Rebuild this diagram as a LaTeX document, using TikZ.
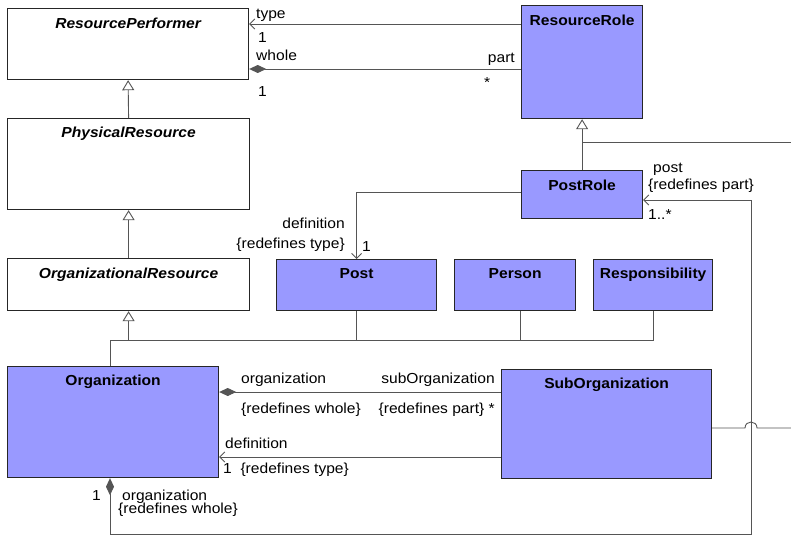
\documentclass[tikz,border=0pt]{standalone}
\usepackage{fontspec}
\setmainfont{Liberation Sans}[FakeStretch=1.075]
\usetikzlibrary{arrows.meta}
\definecolor{umlblue}{HTML}{9999FF}
\definecolor{edgecol}{HTML}{555555}
\definecolor{bordercol}{HTML}{262626}
\begin{document}
\begin{tikzpicture}[x=1pt,y=-1pt,
  cls/.style={draw=bordercol, line width=1.2pt, anchor=north west, inner sep=0pt},
  wcls/.style={cls, fill=white},
  bcls/.style={cls, fill=umlblue},
  ttl/.style={font=\fontsize{14.5}{16}\selectfont\bfseries, inner sep=0pt, text height=10.5pt, text depth=0pt},
  ittl/.style={font=\fontsize{14.5}{16}\selectfont\bfseries\itshape, inner sep=0pt, text height=10.5pt, text depth=0pt},
  lbl/.style={font=\fontsize{14.5}{16}\selectfont, inner sep=0pt, text height=10.5pt, text depth=0pt},
  link/.style={draw=edgecol, line width=0.9pt},
  navi/.style={link, -{Straight Barb[length=5pt,width=10pt]}},
  comp/.style={link, {Diamond[length=17pt,width=8pt,fill=edgecol]}-},
  gen/.style={link, -{Triangle[open,length=10pt,width=12pt,fill=white]}},
  compnavi/.style={link, {Diamond[length=17pt,width=8pt,fill=edgecol]}-{Straight Barb[length=5pt,width=10pt]}},
]
\fill[white] (0,0) rectangle (791,536);
\path[use as bounding box] (0,0) rectangle (791,536);

% classes
\node[wcls, minimum width=241pt, minimum height=71pt] (rp) at (7,8) {};
\node[wcls, minimum width=242pt, minimum height=91pt] (pr) at (7,118) {};
\node[wcls, minimum width=242pt, minimum height=52pt] (ores) at (7,258) {};
\node[bcls, minimum width=121pt, minimum height=113pt] (rr) at (521,5) {};
\node[bcls, minimum width=121pt, minimum height=48pt] (prole) at (521,170) {};
\node[bcls, minimum width=160pt, minimum height=51pt] (post) at (276,259) {};
\node[bcls, minimum width=121pt, minimum height=51pt] (person) at (454,259) {};
\node[bcls, minimum width=119pt, minimum height=51pt] (resp) at (593,259) {};
\node[bcls, minimum width=211pt, minimum height=111pt] (org) at (7,366) {};
\node[bcls, minimum width=210pt, minimum height=109pt] (sub) at (501,369) {};

% titles
\node[ittl] (trp) at ([yshift=-15pt]rp.north) {ResourcePerformer};
\node[ittl] (tpr) at ([yshift=-14pt]pr.north) {PhysicalResource};
\node[ittl] (tor) at ([yshift=-15pt]ores.north) {OrganizationalResource};
\node[ttl] (trr) at ([yshift=-15pt]rr.north) {ResourceRole};
\node[ttl] (tpro) at ([yshift=-15pt]prole.north) {PostRole};
\node[ttl] (tpost) at ([yshift=-14pt]post.north) {Post};
\node[ttl] (tpers) at ([yshift=-14pt]person.north) {Person};
\node[ttl] (tresp) at ([yshift=-14pt]resp.north) {Responsibility};
\node[ttl] (torg) at ([yshift=-14.5pt]org.north) {Organization};
\node[ttl] (tsub) at ([yshift=-14pt]sub.north) {SubOrganization};

% helper coordinates
\coordinate (edgeA) at (791,142);
\coordinate (edgeB) at (791,428);
\coordinate (corner) at (751,534);
\coordinate (orgtop) at ([xshift=103pt]org.north west);
\coordinate (orgbot) at ([xshift=103pt]org.south west);
\coordinate (perstop) at ([xshift=66pt]person.south west);
\coordinate (hopL) at (745,428);
\coordinate (hopR) at (757,428);

% associations to ResourcePerformer
\draw[navi] (rr.west |- 0,24) -- (rp.east |- 0,24);
\draw[comp] (rp.east |- 0,69) -- (rr.west |- 0,69);

% generalizations
\draw[gen] (pr.north) -- (rp.south);
\draw[gen] (ores.north) -- (pr.south);
\draw[gen] (prole.north) -- (rr.south);
\draw[link] (prole.north |- 0,142) -- (edgeA);
\draw[gen] (ores.south |- 0,340) -- (ores.south);
\draw[link] (orgtop) |- (resp.south |- 0,340) -- (resp.south);
\draw[link] (post.south) -- (post.south |- 0,340);
\draw[link] (perstop) -- (perstop |- 0,340);

% PostRole -> Post
\draw[navi] (prole.west |- 0,192) -| (post.north);

% Organization -> PostRole (post)
\draw[compnavi] (orgbot) |- (corner) |- (prole.east |- 0,200);

% SubOrganization right edge with hop
\draw[link] (sub.east |- 0,428) -- (hopL) .. controls (745,420) and (757,420) .. (hopR) -- (edgeB);

% Organization <-> SubOrganization
\draw[comp] (org.east |- 0,392) -- (sub.west |- 0,392);
\draw[navi] (sub.west |- 0,457) -- (org.east |- 0,457);

% labels
\node[lbl, anchor=west] (l1) at (256,13) {type};
\node[lbl, anchor=west] (l2) at (258,37) {1};
\node[lbl, anchor=west] (l3) at (256,55) {whole};
\node[lbl, anchor=west] (l4) at (258,91) {1};
\node[lbl, anchor=east] (l5) at (515,57) {part};
\node[lbl, anchor=west] (l6) at (484,82) {*};
\node[lbl, anchor=west] (l7) at (653,167) {post};
\node[lbl, anchor=west] (l8) at (648,184) {\{redefines part\}};
\node[lbl, anchor=west] (l9) at (648,214) {1..*};
\node[lbl, anchor=east] (l10) at (345,223) {definition};
\node[lbl, anchor=east] (l11) at (345,243) {\{redefines type\}};
\node[lbl, anchor=west] (l12) at (362,246) {1};
\node[lbl, anchor=west] (l13) at (241,378) {organization};
\node[lbl, anchor=east] (l14) at (495,378) {subOrganization};
\node[lbl, anchor=west] (l15) at (241,408) {\{redefines whole\}};
\node[lbl, anchor=east] (l16) at (495,408) {\{redefines part\} *};
\node[lbl, anchor=west] (l17) at (225,443) {definition};
\node[lbl, anchor=west] (l18) at (223,468) {1\ \ \{redefines type\}};
\node[lbl, anchor=west] (l19) at (92,495) {1};
\node[lbl, anchor=west] (l20) at (122,495) {organization};
\node[lbl, anchor=west] (l21) at (118,508) {\{redefines whole\}};
\end{tikzpicture}
\end{document}
